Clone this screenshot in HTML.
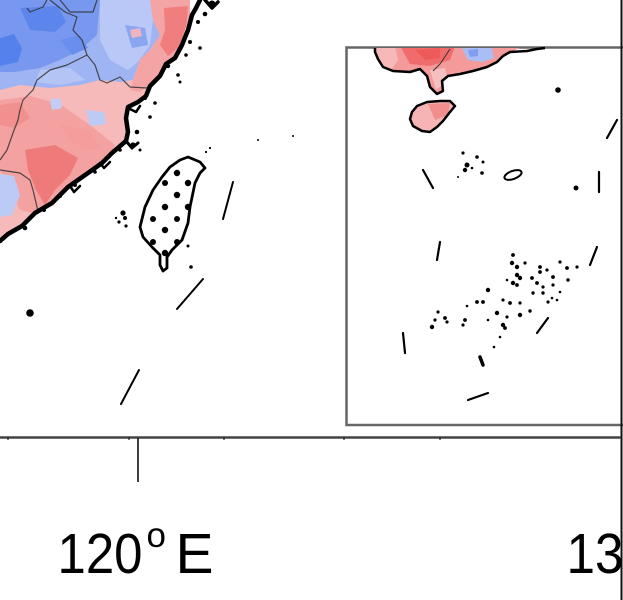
<!DOCTYPE html>
<html>
<head>
<meta charset="utf-8">
<style>
html,body{margin:0;padding:0;background:#fff;}
svg{display:block;}
</style>
</head>
<body>
<svg width="623" height="600" viewBox="0 0 623 600" xmlns="http://www.w3.org/2000/svg">
<defs>
<clipPath id="land">
<polygon points="0,0 190,0 190,15 185,30 180,45 172,60 165,63 160,75 150,85 147,95 140,100 128,105 125,115 127,140 110,153 100,163 87,173 67,187 50,203 33,213 20,227 0,240"/>
</clipPath>
<clipPath id="insetland">
<polygon points="375,48 375,52 378,59 383,67 393,71 410,72 420,69 427,76 430,87 437,94 443,91 442,81 448,76 460,74 473,71 487,67 497,62 503,56 510,52 520,48"/>
</clipPath>
<clipPath id="hainan">
<polygon points="412,112 417,106 427,102 440,101 450,101 455,106 450,112 443,121 437,127 430,132 422,131 413,126 410,119"/>
</clipPath>
</defs>

<!-- main land colour field -->
<g clip-path="url(#land)">
<rect x="0" y="0" width="200" height="250" fill="#f6baba"/>
<polygon points="0,0 150,0 153,20 160,35 150,50 140,60 133,80 120,82 100,80 80,85 50,88 20,85 0,90" fill="#9fb5f3"/>
<polygon points="100,0 150,0 153,20 150,45 138,62 128,70 110,60 100,40" fill="#b9c8f6"/>
<polygon points="0,0 100,0 97,35 80,50 60,60 40,68 15,72 0,72" fill="#7898ef"/>
<polygon points="0,38 14,34 22,48 18,62 0,66" fill="#5482ec"/>
<polygon points="20,8 58,6 66,22 55,32 30,30" fill="#5d86ec"/>
<polygon points="60,40 80,35 88,48 72,55" fill="#6a8eee"/>
<polygon points="125,25 145,28 148,45 132,48" fill="#8aa6f1"/>
<polygon points="40,70 70,68 85,80 60,85 35,82" fill="#b4c4f5"/>
<polygon points="150,0 192,0 190,15 185,30 180,45 172,60 160,75 150,85 140,92 130,90 133,80 140,60 150,50 160,35 153,20" fill="#f4a4a4"/>
<polygon points="164,8 188,6 186,30 178,48 168,56 160,45 165,30" fill="#f07e7e"/>
<polygon points="0,100 30,96 60,104 90,125 115,145 110,155 100,163 87,173 67,187 50,203 33,213 20,210 0,170" fill="#f4a1a1"/>
<polygon points="25,150 55,145 78,158 70,175 55,190 45,205 36,190 28,170" fill="#ef7a7a"/>
<polygon points="0,105 20,102 30,118 15,128 0,125" fill="#f29090"/>
<polygon points="60,125 90,130 100,148 85,150 70,140" fill="#f59d9d"/>
<polygon points="0,174 14,176 20,195 12,215 0,217" fill="#bccbf6"/>
<polygon points="86,110 104,112 106,124 90,126" fill="#bccbf6"/>
<polygon points="50,100 60,98 62,108 52,110" fill="#c0cdf7"/>
<polygon points="130,30 140,28 142,36 132,38" fill="#f0b4c0"/>
</g>

<!-- province borders -->
<g fill="none" stroke="#333" stroke-width="1.2" stroke-linejoin="round" opacity="0.85">
<polyline points="50,0 65,12 77,17 73,30 82,40 87,55 95,65 100,80 107,83 120,77 130,87 147,88"/>
<polyline points="87,55 67,65 50,70 37,80 33,90 23,100 20,110 18,120 13,133 7,150 0,160"/>
<polyline points="27,8 30,12 43,7 47,0"/>
<polyline points="60,0 70,12 93,12 97,0"/>
<polyline points="0,170 20,173 30,180 33,190 37,207 38,213"/>
</g>

<!-- coastline -->
<g fill="none" stroke="#000" stroke-linejoin="round" stroke-linecap="round">
<polyline stroke-width="4.5" points="200,0 196,8 192,15 188,30 182,45 175,58 166,64 160,76 150,86 146,96 138,102 128,107 126,118 128,132 126,141 112,153 102,163 88,173 68,187 52,203 35,213 22,226 8,234 0,241"/>
<polyline stroke-width="3.5" points="205,0 212,8 218,2"/>
<polyline stroke-width="2.5" points="128,108 136,112 140,106"/>
<polyline stroke-width="3" points="126,141 132,148 138,143"/>
<polyline stroke-width="2.5" points="100,163 104,168 110,162"/>
<polyline stroke-width="2.5" points="70,186 74,192 80,186"/>
</g>
<g fill="#000">
<circle cx="212" cy="4" r="3.5"/><circle cx="205" cy="14" r="2.3"/><circle cx="198" cy="22" r="2"/>
<circle cx="200" cy="48" r="1.8"/><circle cx="190" cy="42" r="2"/><circle cx="186" cy="55" r="1.8"/>
<circle cx="178" cy="75" r="1.8"/><circle cx="180" cy="82" r="1.5"/><circle cx="155" cy="103" r="1.8"/>
<circle cx="150" cy="117" r="1.8"/><circle cx="137" cy="132" r="2.3"/><circle cx="140" cy="150" r="1.5"/>
<circle cx="133" cy="145" r="2.6"/><circle cx="120" cy="150" r="1.8"/><circle cx="95" cy="172" r="1.8"/>
<circle cx="75" cy="185" r="2"/><circle cx="44" cy="210" r="2"/><circle cx="25" cy="228" r="2.3"/>
<circle cx="168" cy="66" r="2.2"/><circle cx="145" cy="98" r="2"/><circle cx="60" cy="196" r="2"/>
<circle cx="123" cy="213" r="2.6"/><circle cx="125" cy="218" r="2"/><circle cx="119" cy="222" r="1.6"/><circle cx="126" cy="226" r="1.6"/><circle cx="116" cy="218" r="1.2"/>
<circle cx="30" cy="313" r="3.8"/>
<circle cx="210" cy="148" r="1.1"/><circle cx="206" cy="152" r="1.1"/><circle cx="258" cy="140" r="1"/><circle cx="293" cy="136" r="1"/>
<circle cx="188" cy="246" r="1.5"/><circle cx="191" cy="267" r="1.8"/>
</g>

<!-- Taiwan -->
<polygon points="188,157 200,162 205,168 200,173 195,183 190,207 188,223 182,240 172,250 167,257 167,268 163,271 160,265 160,255 152,247 143,237 140,227 145,207 153,190 162,177 170,167 180,160" fill="#fff" stroke="#000" stroke-width="2.8" stroke-linejoin="round"/>
<g fill="#000">
<circle cx="177" cy="173" r="3.2"/><circle cx="188" cy="183" r="3.2"/>
<circle cx="165" cy="183" r="3"/><circle cx="177" cy="195" r="3.2"/>
<circle cx="188" cy="207" r="3.2"/><circle cx="165" cy="207" r="3.2"/>
<circle cx="177" cy="219" r="3"/><circle cx="153" cy="219" r="3"/>
<circle cx="165" cy="230" r="3.2"/><circle cx="153" cy="242" r="3"/>
<circle cx="177" cy="242" r="3"/><circle cx="165" cy="253" r="3.2"/>
</g>

<!-- dashes main -->
<g stroke="#000" stroke-width="2" stroke-linecap="round" fill="none">
<line x1="233" y1="182" x2="223" y2="219"/>
<line x1="203" y1="279" x2="177" y2="309"/>
<line x1="139" y1="370" x2="121" y2="404"/>
</g>

<!-- inset -->
<rect x="346.5" y="47.5" width="280" height="377.5" fill="#fff" stroke="#666" stroke-width="2.5"/>
<g clip-path="url(#insetland)">
<rect x="370" y="46" width="160" height="60" fill="#f49a9a"/>
<polygon points="370,46 395,46 398,60 390,72 370,72" fill="#f6b8b8"/>
<polygon points="400,46 455,46 450,60 430,66 410,64" fill="#f06c6c"/>
<polygon points="415,50 440,48 440,58 425,60" fill="#ee5a5a"/>
<polygon points="462,48 492,48 494,58 482,62 468,60" fill="#aabdf4"/>
<polygon points="468,50 478,49 478,56 470,57" fill="#7f9ef0"/>
<polygon points="430,70 445,68 448,80 436,90" fill="#f7c0c0"/>
</g>
<g clip-path="url(#hainan)">
<rect x="405" y="98" width="55" height="40" fill="#f6b4b4"/>
<polygon points="428,104 450,103 448,115 435,120" fill="#f18e8e"/>
</g>
<g fill="none" stroke="#000" stroke-width="2.5" stroke-linejoin="round">
<polyline points="375,48 375,52 378,59 383,67 393,71 410,72 420,69 427,76 430,87 437,94 443,91 442,81 448,76 460,74 473,71 487,67 497,62 503,56 510,52 527,51 537,49 545,48"/>
<polygon points="412,112 417,106 427,102 440,101 450,101 455,106 450,112 443,121 437,127 430,132 422,131 413,126 410,119"/>
<polyline stroke="#333" stroke-width="1" points="450,49 440,64 433,71"/>
<ellipse cx="513" cy="175" rx="9" ry="4" transform="rotate(-20 513 175)" stroke-width="2"/>
</g>
<g stroke="#000" stroke-width="2.2" stroke-linecap="round" fill="none">
<line x1="617" y1="120" x2="607" y2="138"/>
<line x1="423" y1="170" x2="433" y2="188"/>
<line x1="599" y1="172" x2="599" y2="192"/>
<line x1="440" y1="242" x2="437" y2="260"/>
<line x1="597" y1="247" x2="590" y2="265"/>
<line x1="548" y1="318" x2="537" y2="333"/>
<line x1="403" y1="333" x2="405" y2="353"/>
<line x1="468" y1="400" x2="488" y2="393"/>
<line x1="480" y1="357" x2="483" y2="365" stroke-width="3.5"/>
</g>
<g fill="#000">
<circle cx="558" cy="90" r="2.8"/><circle cx="576" cy="188" r="2.5"/>
<circle cx="463" cy="153" r="1.6"/><circle cx="477" cy="157" r="1.8"/><circle cx="467" cy="165" r="2.5"/><circle cx="465" cy="170" r="2.2"/><circle cx="472" cy="168" r="1.3"/><circle cx="483" cy="162" r="1.5"/><circle cx="482" cy="173" r="1.8"/><circle cx="458" cy="177" r="1"/>
<circle cx="513" cy="255" r="1.9"/><circle cx="512" cy="263" r="2.2"/><circle cx="517" cy="267" r="2.2"/><circle cx="525" cy="263" r="1.6"/>
<circle cx="540" cy="267" r="1.9"/><circle cx="540" cy="272" r="1.9"/><circle cx="547" cy="270" r="1.6"/><circle cx="560" cy="262" r="1.6"/><circle cx="567" cy="268" r="1.9"/><circle cx="577" cy="267" r="1.6"/>
<circle cx="517" cy="275" r="2.2"/><circle cx="520" cy="278" r="2.2"/><circle cx="513" cy="283" r="2.2"/><circle cx="517" cy="285" r="1.9"/><circle cx="507" cy="280" r="1.3"/>
<circle cx="532" cy="278" r="1.9"/><circle cx="537" cy="283" r="1.9"/><circle cx="543" cy="287" r="1.6"/><circle cx="553" cy="277" r="1.9"/><circle cx="553" cy="285" r="1.6"/><circle cx="568" cy="280" r="1.7"/><circle cx="560" cy="292" r="1.3"/>
<circle cx="533" cy="293" r="1.7"/><circle cx="543" cy="293" r="1.7"/><circle cx="552" cy="298" r="1.3"/><circle cx="548" cy="302" r="1.6"/><circle cx="557" cy="300" r="1.3"/>
<circle cx="488" cy="290" r="2.2"/>
<circle cx="467" cy="306" r="1.3"/><circle cx="477" cy="302" r="1.9"/><circle cx="483" cy="302" r="1.9"/>
<circle cx="503" cy="300" r="1.6"/><circle cx="510" cy="303" r="1.9"/><circle cx="520" cy="303" r="1.6"/>
<circle cx="497" cy="313" r="2.2"/><circle cx="507" cy="317" r="1.6"/><circle cx="520" cy="315" r="2.2"/><circle cx="530" cy="311" r="1.7"/>
<circle cx="438" cy="312" r="1.6"/><circle cx="435" cy="320" r="1.6"/><circle cx="445" cy="318" r="1.9"/><circle cx="432" cy="327" r="2.2"/><circle cx="447" cy="322" r="1.6"/>
<circle cx="465" cy="320" r="1.9"/><circle cx="463" cy="325" r="1.6"/>
<circle cx="488" cy="320" r="1.3"/><circle cx="503" cy="325" r="2.2"/><circle cx="505" cy="328" r="1.9"/>
<circle cx="500" cy="337" r="1.3"/><circle cx="494" cy="347" r="1.3"/>
</g>

<!-- right edge line -->
<line x1="621.5" y1="0" x2="621.5" y2="600" stroke="#111" stroke-width="2"/>

<!-- axis -->
<line x1="0" y1="437.5" x2="621" y2="437.5" stroke="#444" stroke-width="2.5"/>
<g stroke="#222" stroke-width="1.2">
<line x1="8" y1="437" x2="8" y2="440"/>
<line x1="129" y1="437" x2="129" y2="440"/>
<line x1="224" y1="437" x2="224" y2="440"/>
<line x1="344" y1="437" x2="344" y2="440"/>
<line x1="440" y1="437" x2="440" y2="440"/>
</g>
<line x1="138" y1="438" x2="138" y2="482" stroke="#111" stroke-width="1.6"/>

<g font-family="'Liberation Sans', Arial, sans-serif" fill="#000">
<text x="57.5" y="573" font-size="57" textLength="85" lengthAdjust="spacingAndGlyphs">120</text>
<text x="146.5" y="547" font-size="35">o</text>
<text x="175.5" y="573" font-size="57">E</text>
<text x="566.5" y="573" font-size="57" textLength="57" lengthAdjust="spacingAndGlyphs">13</text>
</g>
</svg>
</body>
</html>
